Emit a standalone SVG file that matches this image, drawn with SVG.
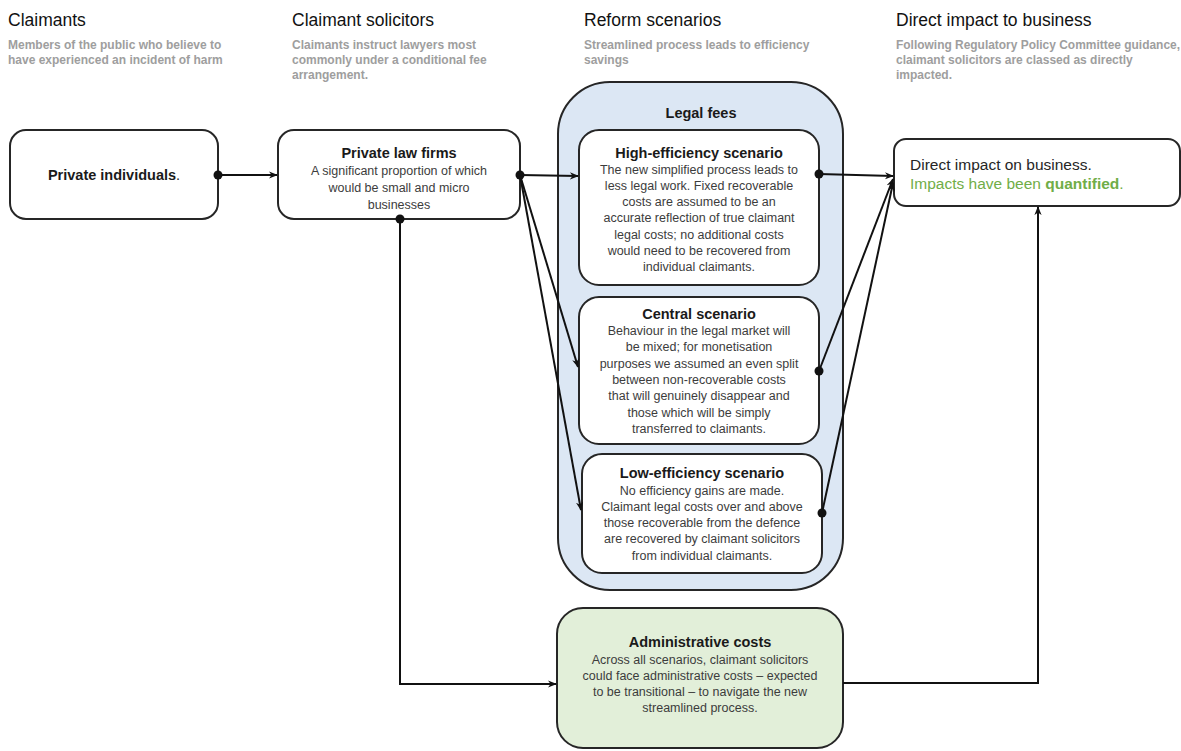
<svg xmlns="http://www.w3.org/2000/svg" width="1181" height="751" viewBox="0 0 1181 751">
<style>
.h{font-family:"Liberation Sans",Arial,sans-serif;font-size:17.5px;fill:#111}
.sub{font-family:"Liberation Sans",Arial,sans-serif;font-size:12px;font-weight:bold;fill:#9e9e9e}
.box{fill:#fff;stroke:#262626;stroke-width:2}
.t{font-family:"Liberation Sans",Arial,sans-serif;font-size:14.5px;font-weight:bold;fill:#1a1a1a;text-anchor:middle}
.b{font-family:"Liberation Sans",Arial,sans-serif;font-size:12.5px;fill:#3c3c3c;text-anchor:middle}
.c{fill:none;stroke:#111;stroke-width:2}
.d{fill:#111}
</style>
<defs>
<marker id="arr" viewBox="0 0 10 10" refX="9" refY="5" markerWidth="9" markerHeight="9" markerUnits="userSpaceOnUse" orient="auto">
<path d="M0,1 L10,5 L0,9 L3,5 Z" fill="#111"/>
</marker>
</defs>

<g id="headers">
<text class="h" x="8" y="26">Claimants</text>
<text class="sub" x="8" y="49">Members of the public who believe to</text>
<text class="sub" x="8" y="64">have experienced an incident of harm</text>
<text class="h" x="292" y="26">Claimant solicitors</text>
<text class="sub" x="292" y="49">Claimants instruct lawyers most</text>
<text class="sub" x="292" y="64">commonly under a conditional fee</text>
<text class="sub" x="292" y="79">arrangement.</text>
<text class="h" x="584" y="26">Reform scenarios</text>
<text class="sub" x="584" y="49">Streamlined process leads to efficiency</text>
<text class="sub" x="584" y="64">savings</text>
<text class="h" x="896" y="26">Direct impact to business</text>
<text class="sub" x="896" y="49" textLength="284" lengthAdjust="spacingAndGlyphs">Following Regulatory Policy Committee guidance,</text>
<text class="sub" x="896" y="64">claimant solicitors are classed as directly</text>
<text class="sub" x="896" y="79">impacted.</text>
</g>

<g id="legal-fees">
<rect x="558" y="82" width="285" height="508" rx="52" fill="#dce7f4" stroke="#262626" stroke-width="2"/>
<text class="t" x="701" y="118">Legal fees</text>
</g>

<g id="private-individuals">
<rect class="box" x="10" y="130" width="208" height="89" rx="16"/>
<text class="t" x="114" y="180">Private individuals<tspan font-weight="normal">.</tspan></text>
</g>

<g id="private-law-firms">
<rect class="box" x="278" y="130" width="242" height="89" rx="16"/>
<text class="t" x="399" y="158">Private law firms</text>
<text class="b" x="399" y="175" font-size="13">A significant proportion of which</text>
<text class="b" x="399" y="192" font-size="13">would be  small and micro</text>
<text class="b" x="399" y="209" font-size="13">businesses</text>
</g>

<g id="high-efficiency">
<rect class="box" x="579" y="130" width="240" height="155" rx="20"/>
<text class="t" x="699" y="158">High-efficiency scenario</text>
<text class="b" x="699" y="174">The new simplified process leads to</text>
<text class="b" x="699" y="190">less legal work. Fixed recoverable</text>
<text class="b" x="699" y="206">costs are assumed to be an</text>
<text class="b" x="699" y="222">accurate reflection of true claimant</text>
<text class="b" x="699" y="239">legal costs; no additional costs</text>
<text class="b" x="699" y="255">would need to be recovered from</text>
<text class="b" x="699" y="271">individual claimants.</text>
</g>

<g id="central">
<rect class="box" x="579" y="297" width="240" height="147" rx="20"/>
<text class="t" x="699" y="319">Central scenario</text>
<text class="b" x="699" y="335">Behaviour in the legal market will</text>
<text class="b" x="699" y="351">be mixed; for monetisation</text>
<text class="b" x="699" y="368">purposes we assumed an even split</text>
<text class="b" x="699" y="384">between non-recoverable costs</text>
<text class="b" x="699" y="400">that will genuinely disappear and</text>
<text class="b" x="699" y="417">those which will be simply</text>
<text class="b" x="699" y="433">transferred to claimants.</text>
</g>

<g id="low-efficiency">
<rect class="box" x="582" y="454" width="240" height="119" rx="20"/>
<text class="t" x="702" y="478">Low-efficiency scenario</text>
<text class="b" x="702" y="495">No efficiency gains are made.</text>
<text class="b" x="702" y="511">Claimant legal costs over and above</text>
<text class="b" x="702" y="527">those recoverable from the defence</text>
<text class="b" x="702" y="543">are recovered by claimant solicitors</text>
<text class="b" x="702" y="560">from individual claimants.</text>
</g>

<g id="direct-impact">
<rect class="box" x="894" y="139" width="286" height="67" rx="12"/>
<text x="910" y="170" font-family="Liberation Sans,Arial,sans-serif" font-size="15.5" fill="#262626">Direct impact on business.</text>
<text x="910" y="189" font-family="Liberation Sans,Arial,sans-serif" font-size="15.5" fill="#70ad47">Impacts have been <tspan font-weight="bold">quantified</tspan>.</text>
</g>

<g id="administrative-costs">
<rect x="557" y="608" width="286" height="140" rx="26" fill="#e2efd9" stroke="#262626" stroke-width="2"/>
<text class="t" x="700" y="647">Administrative costs</text>
<text class="b" x="700" y="664">Across all scenarios, claimant solicitors</text>
<text class="b" x="700" y="680">could face administrative costs – expected</text>
<text class="b" x="700" y="696">to be transitional – to navigate the new</text>
<text class="b" x="700" y="712">streamlined process.</text>
</g>

<g id="connectors">
<path class="c" d="M218,175 L277,175" marker-end="url(#arr)"/>
<path class="c" d="M520,175 L578,176" marker-end="url(#arr)"/>
<path class="c" d="M520,175 L578,367" marker-end="url(#arr)"/>
<path class="c" d="M520,175 L581,510" marker-end="url(#arr)"/>
<path class="c" d="M819,174 L893,176" marker-end="url(#arr)"/>
<path class="c" d="M819,371 L893,179" marker-end="url(#arr)"/>
<path class="c" d="M822,513 L893,183" marker-end="url(#arr)"/>
<path class="c" d="M400,219 L400,684 L556,684" marker-end="url(#arr)"/>
<path class="c" d="M843,683 L1038,683 L1038,207" marker-end="url(#arr)"/>
<circle class="d" cx="218" cy="175" r="4.5"/>
<circle class="d" cx="520" cy="175" r="4.5"/>
<circle class="d" cx="400" cy="219" r="4.5"/>
<circle class="d" cx="819" cy="174" r="4.5"/>
<circle class="d" cx="819" cy="371" r="4.5"/>
<circle class="d" cx="822" cy="513" r="4.5"/>
</g>
</svg>
